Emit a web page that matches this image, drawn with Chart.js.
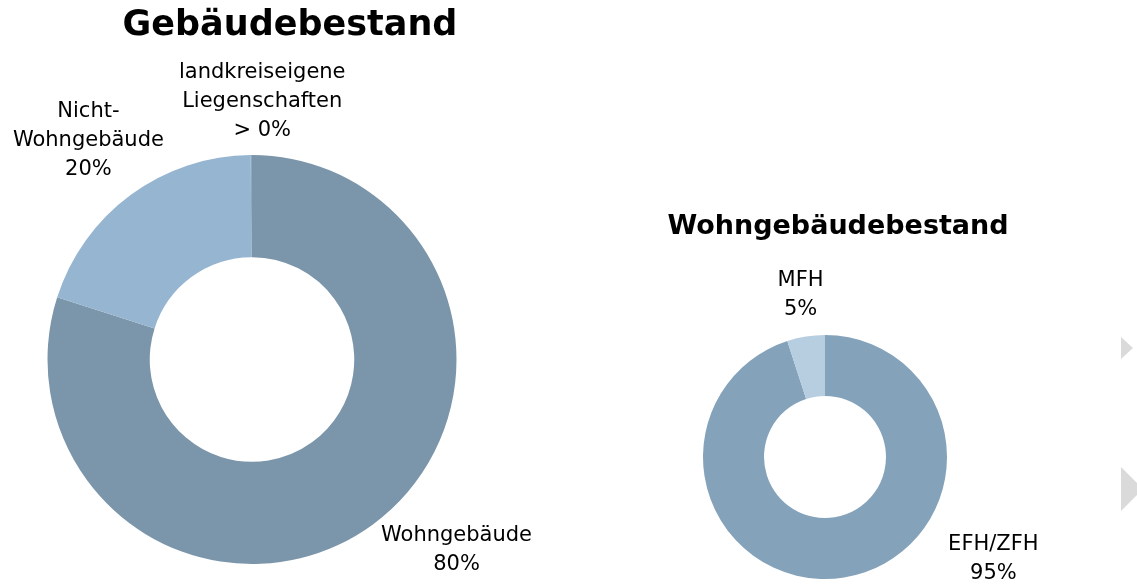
<!DOCTYPE html>
<html>
<head>
<meta charset="utf-8">
<script src="https://cdn.jsdelivr.net/npm/chart.js"></script>
<style>
  body { margin: 0; background: #fff; }
  #wrap { position: relative; width: 1137px; height: 586px; overflow: hidden; }
  canvas { position: absolute; left: 0; top: 0; }
  .tri { position: absolute; width: 0; height: 0; border-style: solid; border-color: transparent transparent transparent #dadada; }
</style>
</head>
<body>
<div id="wrap">
  <canvas id="chartA" width="1137" height="586"></canvas>
  <canvas id="chartB" width="1137" height="586"></canvas>
  <div class="tri" style="left:1121px;top:337px;border-width:11.5px 0 11.5px 12px;"></div>
  <div class="tri" style="left:1121px;top:467px;border-width:22.5px 0 22.5px 22px;"></div>
</div>
<script>
// Gebäudebestand
var labelsA = [['Wohngebäude'], ['Nicht-', 'Wohngebäude'], ['landkreiseigene', 'Liegenschaften']];
var valuesA = [80, 20, 0.1];
var pctA = ['80%', '20%', '> 0%'];
var colorsA = ['#7b96ab', '#96b5d1', '#8aa8c2'];

// Wohngebäudebestand
var labelsB = [['EFH/ZFH'], ['MFH']];
var valuesB = [95, 5];
var pctB = ['95%', '5%'];
var colorsB = ['#84a2ba', '#b7cde0'];

var FONT = '"DejaVu Sans", sans-serif';

// draws title and outside labels; label offsets are in units of the outer radius
var outLabels = {
  id: 'outLabels',
  afterDraw: function(chart, args, opts) {
    var ctx = chart.ctx;
    var arc = chart.getDatasetMeta(0).data[0];
    var cx = arc.x, cy = arc.y, R = arc.outerRadius;
    ctx.save();
    ctx.fillStyle = '#000';
    ctx.textAlign = 'center';
    ctx.textBaseline = 'middle';
    ctx.font = 'bold ' + opts.titleSize + 'px ' + FONT;
    ctx.fillText(opts.title, opts.titleX, opts.titleY);
    ctx.font = '21px ' + FONT;
    var lh = 29;
    chart.data.labels.forEach(function(lab, i) {
      var lines = lab.concat([opts.pct[i]]);
      var x = cx + opts.pos[i][0] * R;
      var y = cy + opts.pos[i][1] * R - (lines.length - 1) * lh / 2;
      lines.forEach(function(t, j) { ctx.fillText(t, x, y + j * lh); });
    });
    ctx.restore();
  }
};

new Chart(document.getElementById('chartA'), {
  type: 'doughnut',
  data: { labels: labelsA, datasets: [{ data: valuesA, backgroundColor: colorsA, borderWidth: 0 }] },
  options: {
    responsive: false, animation: false, cutout: '50%',
    layout: { padding: { left: 47, top: 155, right: 680, bottom: 22 } },
    plugins: {
      legend: { display: false }, tooltip: { enabled: false },
      outLabels: { title: 'Gebäudebestand', titleSize: 35, titleX: 290, titleY: 26, pct: pctA,
        pos: [[1.0, 0.93], [-0.8, -1.07], [0.05, -1.26]] }
    }
  },
  plugins: [outLabels]
});

new Chart(document.getElementById('chartB'), {
  type: 'doughnut',
  data: { labels: labelsB, datasets: [{ data: valuesB, backgroundColor: colorsB, borderWidth: 0 }] },
  options: {
    responsive: false, animation: false, cutout: '50%',
    layout: { padding: { left: 703, top: 335, right: 190, bottom: 7 } },
    plugins: {
      legend: { display: false }, tooltip: { enabled: false },
      outLabels: { title: 'Wohngebäudebestand', titleSize: 27, titleX: 838, titleY: 227, pct: pctB,
        pos: [[1.38, 0.84], [-0.2, -1.33]] }
    }
  },
  plugins: [outLabels]
});
</script>
</body>
</html>
